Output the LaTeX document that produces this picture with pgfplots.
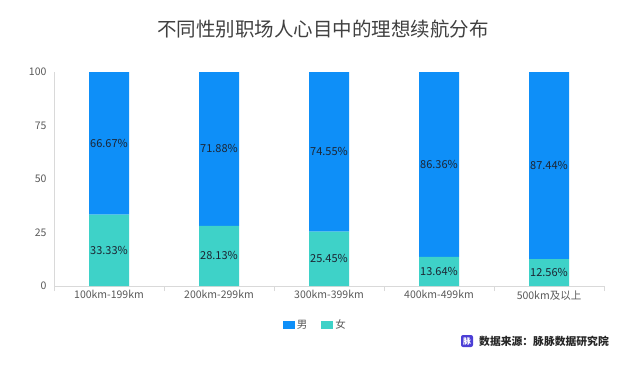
\documentclass[border=0pt]{standalone}
\usepackage{pgfplots}
\pgfplotsset{compat=1.18}
\usepackage{fontspec}
\setmainfont{Noto Sans CJK SC}
\definecolor{mblue}{HTML}{0E8FF8}
\definecolor{mteal}{HTML}{3ED2C8}
\definecolor{axgrey}{HTML}{D9D9D9}
\definecolor{txtgrey}{HTML}{595959}
\definecolor{titlegrey}{HTML}{404040}
\definecolor{lblcol}{HTML}{1C2533}
\definecolor{iconcol}{HTML}{4C3FD6}
\begin{document}
\begin{tikzpicture}[x=1bp,y=1bp]
\path[use as bounding box] (0,0) rectangle (640,366);
\node[text=titlegrey, font=\fontsize{19.5bp}{22bp}\selectfont] at (323,337) {不同性别职场人心目中的理想续航分布};
\begin{axis}[
  at={(54bp,80bp)}, anchor=south west,
  scale only axis, width=550bp, height=214bp,
  ybar stacked, bar width=40bp,
  xmin=-0.5, xmax=4.5, ymin=0, ymax=100.02,
  clip=false,
  axis lines*=left,
  axis line style={draw=axgrey, line width=0.8pt, -},
  xtick={0,1,2,3,4},
  xticklabels={100km-199km,200km-299km,300km-399km,400km-499km,500km及以上},
  ytick={0,25,50,75,100},
  major tick style={draw=none},
  extra x ticks={-0.5,0.5,1.5,2.5,3.5,4.5},
  extra x tick labels={},
  extra x tick style={major tick style={draw=axgrey, line width=0.8pt}, tick align=outside, major tick length=5bp},
  tick label style={text=txtgrey, font=\fontsize{10.5bp}{12bp}\selectfont},
  yticklabel style={xshift=-4bp},
  xticklabel style={yshift=-1bp},
  /pgf/number format/assume math mode=true,
  nodes near coords={\pgfmathprintnumber[fixed,fixed zerofill,precision=2]{\pgfplotspointmeta}\%},
  every node near coord/.append style={anchor=center, text=lblcol, font=\fontsize{11bp}{12bp}\selectfont},
  legend style={at={(0.475,-0.182)}, anchor=center, draw=none, legend columns=2, fill=none,
    font=\fontsize{10.5bp}{12bp}\selectfont, text=txtgrey,
    /tikz/every even column/.append style={column sep=12bp}},
  legend image code/.code={\fill[#1] (0bp,-4bp) rectangle (12bp,4bp);},
  reverse legend,
]
\addplot[fill=mteal, draw=none] coordinates {(0,33.33) (1,28.13) (2,25.45) (3,13.64) (4,12.56)};
\addlegendentry{女}
\addplot[fill=mblue, draw=none] coordinates {(0,66.67) (1,71.88) (2,74.55) (3,86.36) (4,87.44)};
\addlegendentry{男}
\end{axis}
\fill[iconcol, rounded corners=2bp] (461,19) rectangle (473,31);
\node[text=white, font=\fontsize{8bp}{9bp}\selectfont\bfseries, inner sep=0] at (467,25) {脉};
\node[anchor=west, text=black!85, font=\fontsize{10.8bp}{12bp}\selectfont\bfseries, inner sep=0] at (479,25) {数据来源：脉脉数据研究院};
\end{tikzpicture}
\end{document}
